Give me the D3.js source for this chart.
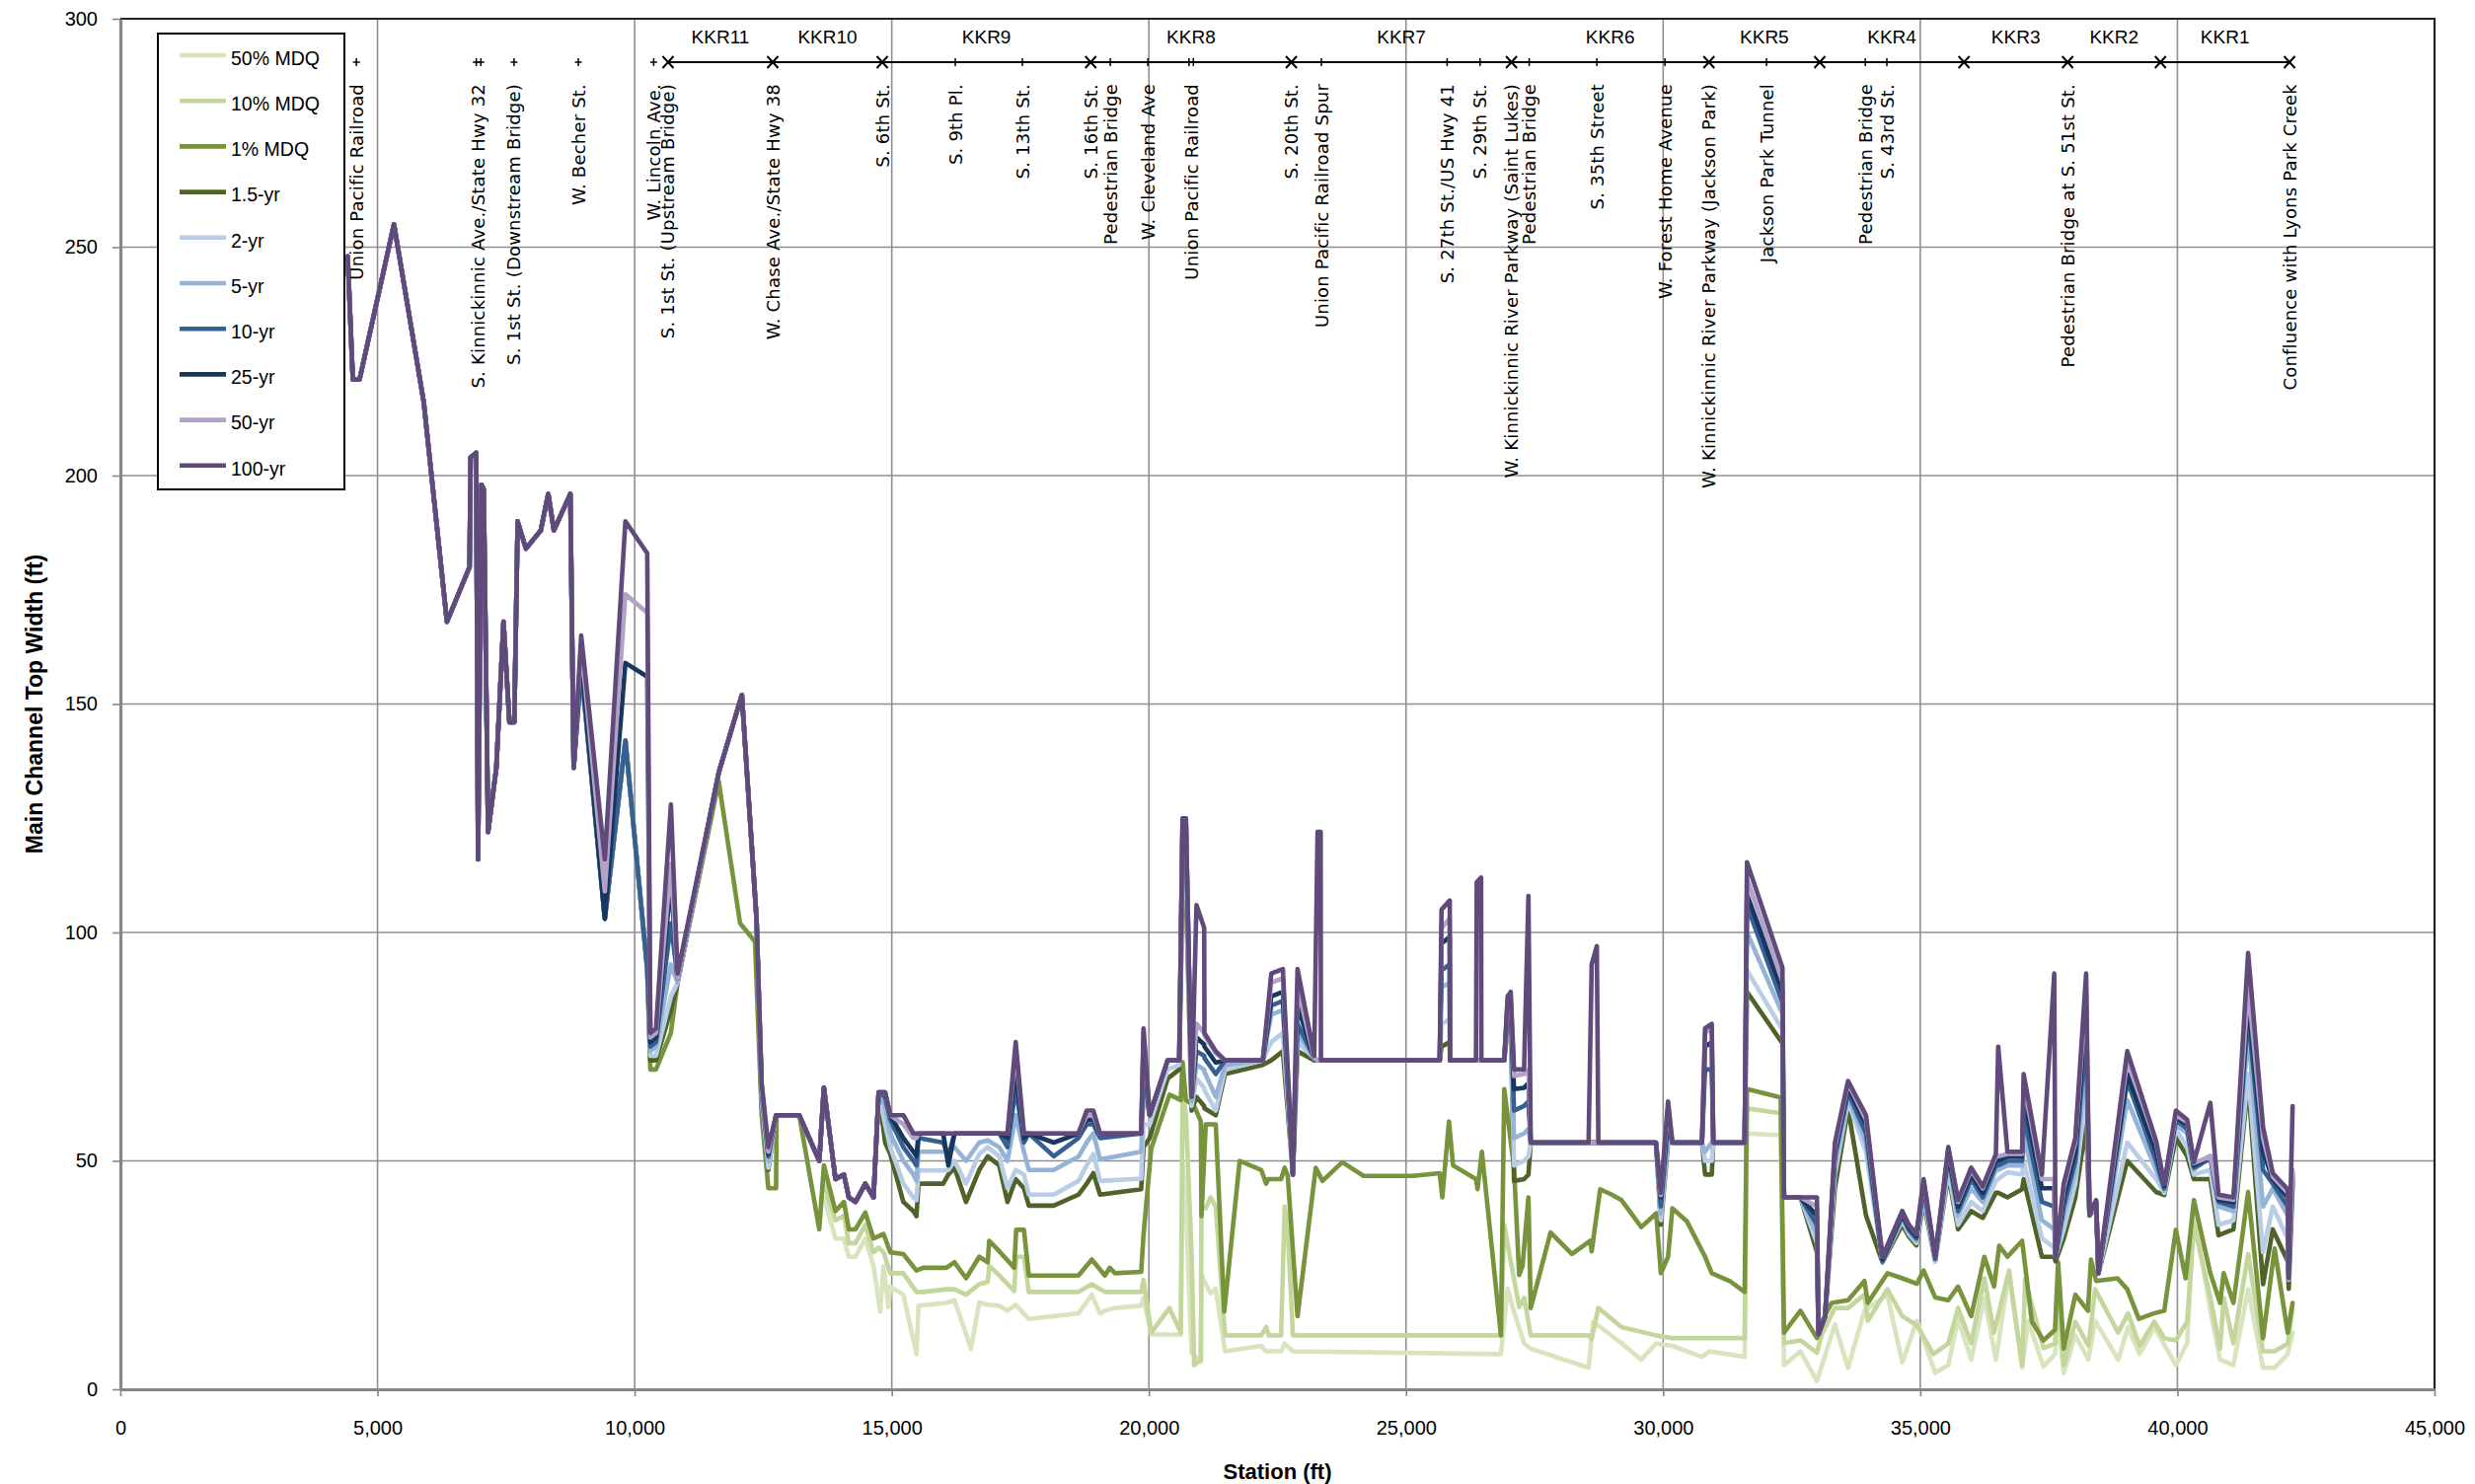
<!DOCTYPE html>
<html>
<head>
<meta charset="utf-8">
<script src="https://cdn.jsdelivr.net/npm/d3@7"></script>
<style>
  body { margin: 0; background: #fff; }
  svg { display: block; }
</style>
</head>
<body>
<div id="chart"></div>
<script>
// Stations (ft) shared by the return-period series
const stations = [
  4420, 4520, 4650, 5320, 5900, 6350, 6790, 6810, 6920, 6955,
  7020, 7065, 7150, 7310, 7450, 7565, 7660, 7725, 7885, 8175,
  8320, 8430, 8750, 8815, 8960, 9420, 9820, 10245, 10305, 10415,
  10705, 10835, 11635, 12085, 12370, 12470, 12600, 12750, 13200, 13590,
  13680, 13905, 14070, 14165, 14295, 14485, 14645, 14745, 14870, 14970,
  15225, 15420, 15480, 15520, 16000, 16100, 16220, 16445, 16700, 16865,
  17090, 17250, 17410, 17570, 17665, 18150, 18630, 18790, 18920, 19050,
  19850, 19895, 20015, 20365, 20590, 20655, 20720, 20830, 20925, 21075,
  21080, 21300, 21480, 22215, 22380, 22605, 22800, 22890, 23215, 23280,
  23340, 23345, 25655, 25690, 25850, 25855, 26360, 26375, 26460, 26465,
  26910, 26975, 27035, 27100, 27295, 27380, 27425, 28550, 28610, 28710,
  28740, 29860, 29955, 30095, 30180, 30755, 30815, 30945, 30975, 31585,
  31630, 32320, 32350, 32670, 32990, 33020, 33150, 33340, 33595, 33945,
  34265, 34650, 34775, 34925, 35065, 35290, 35545, 35735, 35990, 36215,
  36470, 36515, 36695, 36980, 37010, 37365, 37605, 37630, 37790, 38015,
  38225, 38290, 38420, 38465, 39025, 39585, 39745, 39970, 40190, 40320,
  40640, 40800, 41090, 41375, 41665, 41855, 42145, 42165, 42240
];

const w100yr = [
  248, 221, 221, 255, 216, 168, 180, 204, 205, 116,
  198, 197, 122, 136, 168, 146, 146, 190, 184, 188,
  196, 188, 196, 136, 165, 116, 190, 183, 78, 79,
  128, 91, 135, 152, 103, 67, 53, 60, 60, 50,
  66, 46, 47, 42, 41, 45, 42, 65, 65, 60,
  60, 56, 56, 56, 56, 56, 56, 56, 56, 56,
  56, 56, 76, 56, 56, 56, 56, 61, 61, 56,
  56, 79, 60, 72, 72, 125, 125, 64, 106, 101,
  78, 74, 72, 72, 91, 92, 47, 92, 73, 122,
  122, 72, 72, 105, 107, 72, 72, 111, 112, 72,
  72, 86, 87, 70, 70, 108, 54, 54, 93, 97,
  54, 54, 43, 63, 54, 54, 79, 80, 54, 54,
  115.4, 92.3, 42, 42, 42, 12, 16, 54, 67.5, 60,
  29, 39, 36, 34, 46, 29, 53, 41.4, 48.5, 44.4,
  51.5, 75, 52, 52, 69, 47, 91, 29, 45, 55,
  91, 38.5, 41.4, 25.4, 74, 54.4, 45, 61, 59, 49.7,
  62.7, 42.6, 42, 95.5, 57.4, 47.3, 43.8, 24.3, 62
];

const w50yr = [
  248, 221, 221, 255, 216, 168, 180, 204, 205, 116,
  198, 197, 122, 136, 168, 146, 146, 190, 184, 188,
  196, 188, 196, 136, 163, 109, 174, 170, 77, 78,
  115, 90, 135, 152, 103, 66, 52, 60, 60, 50,
  66, 46, 47, 42, 41, 45, 42, 65, 65, 60,
  58, 55, 55, 56, 56, 56, 56, 56, 56, 56,
  56, 56, 74, 56, 56, 56, 56, 60, 60, 56,
  56, 78, 60, 72, 72, 125, 125, 64, 80, 78,
  77.5, 73.5, 72, 72, 89, 90, 47, 88, 72.5, 72,
  72, 72, 72, 101, 103, 72, 72, 72, 72, 72,
  72, 85, 86, 68.6, 69, 70, 54, 54, 54, 54,
  54, 54, 42.5, 62, 54, 54, 78, 79, 54, 54,
  111.8, 89.3, 42, 42, 40, 12, 16, 53, 67, 59,
  29, 39, 36, 34, 45.5, 29, 53, 41, 48, 44,
  51, 51, 51.5, 51.5, 67, 46, 46, 29, 44, 54,
  88, 38.5, 41, 25.4, 72, 54, 45, 60, 58.5, 49.5,
  51, 42, 41.5, 88, 55, 46.5, 43, 25, 48
];

const w25yr = [
  248, 221, 221, 255, 216, 168, 180, 204, 205, 116,
  198, 197, 122, 136, 168, 146, 146, 190, 184, 188,
  196, 188, 196, 136, 160, 103, 159, 156, 76, 77,
  111, 90, 135, 152, 103, 66, 51.5, 60, 60, 50,
  66, 46, 47, 42, 41, 45, 42, 65, 65, 60,
  55, 52, 51, 56, 56, 49, 56, 56, 56, 56,
  56, 55, 70, 55, 56, 54, 56, 59, 59, 56,
  56, 76, 60, 72, 72, 124, 124, 64, 77, 75.5,
  75, 71.5, 72, 72, 86, 87, 47, 84, 72.5, 72,
  72, 72, 72, 97.6, 99, 72, 72, 72, 72, 72,
  72, 84, 85, 65.7, 66, 67, 54, 54, 54, 54,
  54, 54, 42, 60, 54, 54, 75, 76, 54, 54,
  108.3, 87, 42, 42, 38, 12, 16, 52, 66, 58,
  28.5, 38.5, 35.5, 33.5, 45, 29, 52, 40, 47, 43,
  50, 50, 51, 51, 64, 44, 44, 29, 42, 52,
  84, 38.5, 41, 25.4, 69, 52, 44.5, 59.5, 58, 49,
  51, 41.5, 41, 85, 52, 46, 42, 25, 47
];

const w10yr = [
  248, 221, 221, 255, 216, 168, 180, 204, 205, 116,
  198, 197, 122, 136, 168, 146, 146, 190, 184, 188,
  196, 188, 196, 136, 158, 103, 142, 92, 75, 76,
  102, 90, 135, 152, 103, 65, 51, 60, 60, 50,
  66, 46, 47, 42, 41, 45, 42, 65, 64, 59,
  53, 50, 49, 55, 54, 51, 56, 56, 56, 56,
  56, 53, 66, 54, 56, 51, 55, 58, 58, 55,
  56, 70, 60, 72, 72, 124, 124, 64, 74, 73,
  72.5, 69, 72, 72, 84, 85, 47, 80, 72.5, 72,
  72, 72, 72, 91.7, 93, 72, 72, 72, 72, 72,
  72, 83, 84, 61, 62, 63, 54, 54, 54, 54,
  54, 54, 40, 58, 54, 54, 70, 70, 54, 54,
  105.9, 84.6, 42, 42, 36, 12, 16, 51, 65, 56,
  28, 38, 35, 33, 44, 28.5, 51, 39, 46, 42,
  49, 49, 50, 50, 60, 41, 40, 29, 40, 50,
  78, 38.5, 41, 25.4, 67.5, 50, 44, 59, 57, 48.5,
  50.5, 41, 40, 82, 48, 45, 40, 25, 46
];

const w5yr = [
  248, 221, 221, 255, 216, 168, 180, 204, 205, 116,
  198, 197, 122, 136, 168, 146, 146, 190, 184, 188,
  196, 188, 196, 136, 158, 103, 142, 92, 74, 75,
  93, 89, 135, 152, 103, 64, 50, 60, 60, 50,
  66, 46, 47, 42, 41, 45, 42, 65, 62, 56,
  50, 47, 45.6, 52, 52, 52, 53, 50, 54, 54.5,
  53, 50, 60, 52, 48, 48, 50.9, 54, 56, 50.3,
  52, 65, 60, 72, 72, 120, 120, 63, 71, 70,
  69.5, 64, 71, 72, 82, 83, 47, 78, 72.5, 72,
  72, 72, 72, 88, 89, 72, 72, 72, 72, 72,
  72, 82, 83, 55, 56, 57, 54, 54, 54, 54,
  54, 54, 38.5, 56, 54, 54, 52, 54, 54, 54,
  100, 82.2, 42, 42, 34, 12, 16, 49, 64, 54,
  28, 37.5, 34.5, 32.5, 43, 28.5, 50, 38, 44, 41,
  48, 48, 49, 49, 56, 37, 35, 29, 38, 48,
  72, 38.5, 40, 25.4, 63.3, 48, 43.5, 58, 56, 48,
  50.9, 40, 39, 78, 40, 44, 38, 25, 45
];

const w2yr = [
  248, 221, 221, 255, 216, 168, 180, 204, 205, 116,
  198, 197, 122, 136, 168, 146, 146, 190, 184, 188,
  196, 188, 196, 136, 158, 103, 142, 92, 73, 73,
  86, 89, 135, 152, 103, 63, 48.5, 60, 60, 50,
  66, 46, 47, 42, 41, 45, 42, 65, 58, 53,
  45, 42, 41.4, 47.9, 47.9, 48, 50, 45, 51.5, 53,
  51, 44, 48, 47, 42.6, 42.6, 45.6, 49, 51.5, 45.6,
  46.1, 58, 58, 70, 71, 115, 115, 62, 68, 66,
  65.5, 61, 70, 72, 76, 78, 47, 76, 72.5, 72,
  72, 72, 72, 80, 81, 72, 72, 72, 72, 72,
  72, 80, 81, 49, 50, 51, 54, 54, 54, 54,
  54, 54, 37, 55, 54, 54, 50, 50, 54, 54,
  91.7, 78.7, 42, 42, 32, 12, 16, 47, 63, 52,
  28, 37, 34, 32, 42, 28, 48, 36, 41, 39,
  45.6, 46, 47.5, 47, 50, 33, 31, 29, 35, 45,
  65, 38.5, 40, 25.4, 54, 46, 43, 57, 53, 47,
  48, 36, 37, 69, 30, 40, 33, 24, 44
];

const w15yr = [
  248, 221, 221, 255, 216, 168, 180, 204, 205, 116,
  198, 197, 122, 136, 168, 146, 146, 190, 184, 188,
  196, 188, 196, 136, 158, 103, 142, 92, 72, 72,
  83, 89, 135, 152, 103, 62, 48, 60, 60, 50,
  66, 46, 47, 42, 41, 45, 42, 65, 54, 51.5,
  41, 39, 37.9, 45, 45, 47, 48.5, 41, 48, 51,
  49, 41, 46, 44, 40.2, 40.2, 42.6, 45, 47.3, 42.6,
  43.8, 53, 55, 68, 70, 110, 110, 61, 64, 62,
  61.5, 60, 69, 71, 72, 74, 47, 74, 72, 72,
  72, 72, 72, 75, 76, 72, 72, 72, 72, 72,
  72, 79, 80, 45.6, 46, 47, 54, 54, 54, 54,
  54, 54, 36, 54, 54, 54, 47, 47, 54, 54,
  87, 75.7, 42, 42, 30, 12, 16, 44, 61.5, 38,
  27.8, 36, 33.5, 31.5, 41, 28, 47, 35, 39, 37.5,
  43, 43, 42, 43.8, 46, 29, 29, 28, 33, 42,
  58, 38, 40, 25.4, 50, 43.2, 42.5, 55, 51, 46,
  46, 33.7, 35, 67, 23, 35, 28, 22, 45
];

// Low-flow series: [station, top width]
const mdq1 = [
  [4420, 248], [4520, 221], [4650, 221], [5320, 255], [5900, 216], [6350, 168], [6790, 180],
  [6810, 204], [6920, 205], [6955, 116], [7020, 198], [7065, 197], [7150, 122], [7310, 136],
  [7450, 168], [7565, 146], [7660, 146], [7725, 190], [7885, 184], [8175, 188], [8320, 196],
  [8430, 188], [8750, 196], [8815, 136], [8960, 158], [9420, 103], [9820, 142], [10245, 92],
  [10305, 70], [10415, 70], [10705, 78], [10835, 89], [11635, 133], [12050, 102], [12340, 98],
  [12470, 60], [12600, 44], [12750, 44], [12760, 60], [13200, 60], [13590, 35], [13680, 49],
  [13905, 39], [14070, 41], [14165, 35], [14295, 35], [14485, 38.7], [14645, 33], [14840, 34],
  [14970, 30], [15225, 29.6], [15480, 26], [15610, 26.6], [16060, 26.6], [16220, 27.8],
  [16445, 24.3], [16700, 29], [16865, 27.8], [16895, 32.5], [17090, 30.2], [17380, 26.6],
  [17420, 34.9], [17570, 34.9], [17665, 24.9], [18630, 24.9], [18890, 28.4], [19145, 24.9],
  [19240, 26.6], [19340, 25.4], [19850, 25.7], [19895, 33.7], [20045, 52.7], [20400, 64.5],
  [20620, 63.3], [20655, 71.6], [20720, 63.3], [20880, 62], [21010, 58.6], [21022, 37.9],
  [21105, 58], [21300, 58], [21465, 17], [21765, 50], [22185, 48], [22280, 45], [22320, 46],
  [22570, 46], [22640, 48.5], [22700, 46.7], [22890, 16], [23245, 48.5], [23375, 45.6],
  [23760, 49.7], [24175, 46.7], [25140, 46.7], [25655, 47.3], [25705, 42], [25835, 58.6],
  [25915, 49], [26360, 46], [26390, 43.8], [26475, 52], [26845, 11.8], [26910, 65.7],
  [27100, 48.5], [27200, 25], [27265, 27], [27380, 42], [27425, 17.8], [27810, 34.3],
  [28225, 29.6], [28580, 32.5], [28610, 30.2], [28775, 43.8], [29000, 42.6], [29190, 41.4],
  [29575, 35.5], [29865, 38.5], [29955, 25.4], [30095, 29], [30180, 39.6], [30465, 36.7],
  [30815, 29], [30945, 25.4], [31295, 23.7], [31585, 21.3], [31630, 65.7], [32285, 63.9],
  [32350, 12.4], [32670, 17.2], [32990, 11.2], [33085, 14.8], [33275, 18.9], [33595, 19.5],
  [33915, 23.7], [33980, 18.9], [34360, 25.4], [34650, 24.3], [34935, 23.1], [35065, 26],
  [35290, 20.1], [35545, 19.5], [35735, 22.5], [35990, 16], [36245, 29], [36435, 22.5],
  [36535, 31.4], [36695, 29], [36980, 32.5], [37170, 14.8], [37395, 10.7], [37620, 13],
  [37680, 27.8], [37790, 8.9], [38015, 20.7], [38260, 17.2], [38320, 28.4], [38420, 23.7],
  [38835, 24.3], [39025, 21.9], [39250, 15.4], [39540, 16.6], [39745, 17.2], [39970, 34.9],
  [40160, 24.3], [40320, 41.4], [40640, 25.4], [40830, 18.9], [40900, 25.4], [41090, 18.9],
  [41375, 43.2], [41665, 11.2], [41890, 30.8], [42145, 12.4], [42240, 18.9]
];

const mdq10 = [
  [13680, 45], [13905, 37], [14070, 38], [14165, 32], [14295, 32], [14485, 36], [14645, 30],
  [14745, 31], [14840, 30], [14970, 25.4], [15225, 25.4], [15480, 21.3], [15610, 21.3],
  [16060, 21.9], [16220, 21.9], [16445, 20.7], [16700, 23], [16865, 23.5], [16895, 27],
  [17090, 24.9], [17380, 21.5], [17420, 29], [17570, 29], [17665, 21.3], [18630, 21.3],
  [18890, 23], [19145, 21.3], [19850, 21.3], [19895, 24], [20045, 12.4], [20400, 17.8],
  [20620, 12.4], [20655, 65.7], [20720, 60], [20830, 30], [20880, 5.3], [21010, 6.5],
  [21022, 40], [21105, 39.6], [21200, 42], [21300, 40], [21480, 11.8], [22185, 11.8],
  [22280, 13.6], [22330, 11.8], [22570, 11.8], [22640, 40], [22700, 35], [22800, 11.8],
  [26845, 11.8], [26910, 36], [27035, 28], [27200, 18], [27300, 20], [27425, 11.8],
  [28550, 11.8], [28610, 11], [28740, 17.8], [29190, 13.6], [29860, 11.8], [30180, 11.2],
  [31585, 11.2], [31630, 61.5], [32285, 60.4], [32350, 10.1], [32670, 10.7], [32990, 8],
  [33085, 12], [33340, 17.8], [33595, 17.8], [33915, 20.7], [33980, 15], [34360, 21.9],
  [34650, 16], [34935, 14], [35255, 7.7], [35545, 10], [35735, 17.8], [35990, 10.1],
  [36245, 24.3], [36435, 12.4], [36725, 26], [36980, 5.3], [37040, 24], [37395, 9],
  [37620, 10], [37680, 22], [37790, 5.3], [38015, 14.8], [38270, 9.5], [38400, 21.9],
  [38848, 12.4], [39040, 16.6], [39264, 9.5], [39552, 14.8], [39744, 11.2], [39968, 10.7],
  [40190, 14.8], [40320, 36.1], [40640, 20.1], [40830, 8.9], [40900, 20], [41088, 10.1],
  [41376, 29.6], [41664, 8.3], [41890, 8.3], [42145, 10], [42240, 17.8]
];

const mdq50 = [
  [13680, 42], [13905, 33], [14070, 33], [14165, 29], [14295, 29], [14485, 33], [14645, 27],
  [14775, 17], [14840, 27], [14935, 18], [14970, 22.5], [15225, 20.7], [15480, 7.7],
  [15520, 18.3], [16060, 18.9], [16220, 19.5], [16540, 8.9], [16700, 19], [16865, 18.5],
  [17090, 18.3], [17250, 17.2], [17410, 18.5], [17665, 15.4], [18630, 16.6], [18890, 20.7],
  [19050, 16.6], [19145, 17.2], [19340, 17.8], [19850, 18.3], [19895, 20], [20045, 12],
  [20620, 12], [20655, 50], [20720, 40], [20830, 8], [21010, 6], [21022, 25], [21105, 23],
  [21200, 21], [21300, 22], [21480, 8.3], [22185, 9.5], [22280, 8.3], [22570, 8.3],
  [22640, 10], [22800, 8.3], [26845, 7.7], [26975, 22], [27100, 17], [27300, 10],
  [27425, 8.9], [28550, 4.7], [28640, 14.8], [29190, 10.1], [29575, 6.5], [29860, 10],
  [30180, 9.5], [30755, 7.1], [30900, 8.3], [31585, 7.1], [31630, 56], [32285, 55.6],
  [32350, 5.3], [32670, 8.3], [32990, 1.8], [33340, 14.2], [33595, 4.7], [33915, 17.2],
  [34360, 20.7], [34650, 5.9], [34935, 15], [35290, 3.6], [35545, 5.3], [35735, 15.4],
  [35990, 6.5], [36245, 20], [36470, 6.5], [36725, 25.4], [36980, 4.7], [37100, 15],
  [37395, 5], [37620, 7.7], [37680, 15], [37790, 3.6], [38015, 11.8], [38270, 6.5],
  [38400, 15], [38848, 6.5], [39040, 13.6], [39264, 7.7], [39552, 13.6], [39968, 5.3],
  [40190, 10.1], [40320, 39], [40640, 17.2], [40830, 6.5], [41088, 5.3], [41376, 21.9],
  [41664, 4.7], [41890, 4.7], [42145, 7.7], [42240, 12.4]
];

const seriesNames = ['50% MDQ', '10% MDQ', '1% MDQ', '1.5-yr', '2-yr', '5-yr', '10-yr', '25-yr', '50-yr', '100-yr'];
const seriesColors = ['#d7e4bd', '#c3d69b', '#77933c', '#4f6228', '#b9cde5', '#95b3d7', '#376092', '#17375e', '#b3a2c7', '#604a7b'];

// Crossing annotations along the top
const siteNames = [
  'Union Pacific Railroad', 'S. Kinnickinnic Ave./State Hwy 32', 'S. 1st St. (Downstream Bridge)',
  'W. Becher St.', 'W. Lincoln Ave.', 'S. 1st St. (Upstream Bridge)', 'W. Chase Ave./State Hwy 38',
  'S. 6th St.', 'S. 9th Pl.', 'S. 13th St.', 'S. 16th St.', 'Pedestrian Bridge', 'W. Cleveland Ave',
  'Union Pacific Railroad', 'S. 20th St.', 'Union Pacific Railroad Spur', 'S. 27th St./US Hwy 41',
  'S. 29th St.', 'W. Kinnickinnic River Parkway (Saint Lukes)', 'Pedestrian Bridge', 'S. 35th Street',
  'W. Forest Home Avenue', 'W. Kinnickinnic River Parkway (Jackson Park)', 'Jackson Park Tunnel',
  'Pedestrian Bridge', 'S. 43rd St.', 'Pedestrian Bridge at S. 51st St.', 'Confluence with Lyons Park Creek'
];
const siteStations = [
  4590, 6965, 7655, 8905, 10370, 10650, 12685, 14815, 16235, 17540, 18868, 19250, 19980,
  20822, 22770, 23355, 25800, 26440, 27050, 27395, 28710, 30035, 30890, 32010, 33930, 34350,
  37865, 42180
];
const plusMarks = [4590, 6920, 7010, 7655, 8905, 10370, 16235, 17540, 19250, 19980, 20780, 20865,
  23355, 25800, 26440, 27395, 28710, 30035, 32010, 33930, 34350];
const reachBounds = [10650, 12685, 14815, 18868, 22770, 27050, 30890, 33045, 35850, 37865, 39670, 42180];
const reachNames = ['KKR11', 'KKR10', 'KKR9', 'KKR8', 'KKR7', 'KKR6', 'KKR5', 'KKR4', 'KKR3', 'KKR2', 'KKR1'];

const xTicks = [0, 5000, 10000, 15000, 20000, 25000, 30000, 35000, 40000, 45000];
const yTicks = [0, 50, 100, 150, 200, 250, 300];

// ---------------------------------------------------------------
const W = 2508, H = 1504;
const plot = { left: 122, right: 2467, top: 19, bottom: 1408 };

const x = d3.scaleLinear().domain([0, 45000]).range([plot.left, plot.right]);
const y = d3.scaleLinear().domain([0, 300]).range([plot.bottom, plot.top]);

const svg = d3.select('#chart').append('svg')
  .attr('width', W)
  .attr('height', H);

svg.append('rect').attr('width', W).attr('height', H).attr('fill', '#fff');

// Gridlines
const grid = svg.append('g');
grid.selectAll('.hgrid')
  .data(yTicks.filter(d => d > 0 && d < 300))
  .enter().append('line')
  .attr('x1', plot.left).attr('x2', plot.right)
  .attr('y1', d => y(d)).attr('y2', d => y(d))
  .attr('stroke', '#8f8f8f').attr('stroke-width', 1.6);
grid.selectAll('.vgrid')
  .data(xTicks.filter(d => d > 0 && d < 45000))
  .enter().append('line')
  .attr('x1', d => x(d)).attr('x2', d => x(d))
  .attr('y1', plot.top).attr('y2', plot.bottom)
  .attr('stroke', '#8f8f8f').attr('stroke-width', 1.6);

// Plot border (top / right)
svg.append('path')
  .attr('d', `M${plot.left},${plot.top}H${plot.right}V${plot.bottom}`)
  .attr('fill', 'none').attr('stroke', '#222').attr('stroke-width', 2.2);

// Axes
const xAxis = svg.append('g')
  .attr('transform', `translate(0,${plot.bottom})`)
  .call(d3.axisBottom(x).tickValues(xTicks).tickSizeInner(7).tickSizeOuter(0)
    .tickPadding(25).tickFormat(d3.format(',')));
const yAxis = svg.append('g')
  .attr('transform', `translate(${plot.left},0)`)
  .call(d3.axisLeft(y).tickValues(yTicks).tickSizeInner(8).tickSizeOuter(0).tickPadding(15));

[xAxis, yAxis].forEach(a => {
  a.select('.domain').attr('stroke', '#868686').attr('stroke-width', 3.2);
  a.selectAll('.tick line').attr('stroke', '#868686').attr('stroke-width', 1.6);
  a.selectAll('.tick text')
    .style('font-family', "'Liberation Sans', Arial, sans-serif")
    .style('font-size', '20px')
    .attr('fill', '#000');
});

// Axis titles
svg.append('text')
  .attr('x', (plot.left + plot.right) / 2)
  .attr('y', 1491)
  .attr('dy', '0.35em')
  .attr('text-anchor', 'middle')
  .style('font-family', "'Liberation Sans', Arial, sans-serif")
  .style('font-size', '22px')
  .style('font-weight', 'bold')
  .text('Station (ft)');

svg.append('text')
  .attr('transform', `translate(35,${(plot.top + plot.bottom) / 2}) rotate(-90)`)
  .attr('dy', '0.35em')
  .attr('text-anchor', 'middle')
  .style('font-family', "'Liberation Sans', Arial, sans-serif")
  .style('font-size', '23px')
  .style('font-weight', 'bold')
  .text('Main Channel Top Width (ft)');

// Data
const yrArrays = [w15yr, w2yr, w5yr, w10yr, w25yr, w50yr, w100yr];
const allPoints = [mdq50, mdq10, mdq1].concat(
  yrArrays.map(arr => stations.map((s, i) => [s, arr[i]]))
);

const line = d3.line()
  .defined(d => d[1] != null)
  .x(d => x(d[0]))
  .y(d => y(d[1]));

const lines = svg.append('g');
allPoints.forEach((pts, i) => {
  lines.append('path')
    .datum(pts)
    .attr('fill', 'none')
    .attr('stroke', seriesColors[i])
    .attr('stroke-width', 4.6)
    .attr('stroke-linejoin', 'round')
    .attr('stroke-linecap', 'round')
    .attr('d', line);
});

// Crossing annotations
const ann = svg.append('g');
const annY = 63;

ann.append('line')
  .attr('x1', x(reachBounds[0])).attr('x2', x(reachBounds[reachBounds.length - 1]))
  .attr('y1', annY).attr('y2', annY)
  .attr('stroke', '#000').attr('stroke-width', 2);

ann.selectAll('.plus')
  .data(plusMarks)
  .enter().append('path')
  .attr('d', d => `M${x(d)},${annY - 4}V${annY + 4}M${x(d) - 3.5},${annY}H${x(d) + 3.5}`)
  .attr('stroke', '#000').attr('stroke-width', 1.5).attr('fill', 'none');

ann.selectAll('.cross')
  .data(reachBounds)
  .enter().append('path')
  .attr('d', d => `M${x(d) - 5.5},${annY - 6}L${x(d) + 5.5},${annY + 6}M${x(d) - 5.5},${annY + 6}L${x(d) + 5.5},${annY - 6}`)
  .attr('stroke', '#000').attr('stroke-width', 2).attr('fill', 'none');

ann.selectAll('.reach')
  .data(reachNames)
  .enter().append('text')
  .attr('x', (d, i) => x((reachBounds[i] + reachBounds[i + 1]) / 2))
  .attr('y', 37)
  .attr('dy', '0.35em')
  .attr('text-anchor', 'middle')
  .style('font-family', "'Liberation Sans', Arial, sans-serif")
  .style('font-size', '19px')
  .text(d => d);

ann.selectAll('.site')
  .data(siteNames)
  .enter().append('text')
  .attr('transform', (d, i) => `translate(${x(siteStations[i])},85) rotate(-90)`)
  .attr('dy', '0.36em')
  .attr('text-anchor', 'end')
  .style('font-family', "'DejaVu Sans', Verdana, sans-serif")
  .style('font-size', '18px')
  .style('letter-spacing', '0.2px')
  .text(d => d);

// Legend
const legend = svg.append('g').attr('transform', 'translate(160,34)');
legend.append('rect')
  .attr('width', 189).attr('height', 462)
  .attr('fill', '#fff').attr('stroke', '#000').attr('stroke-width', 2);

const rows = legend.selectAll('.row')
  .data(seriesNames)
  .enter().append('g')
  .attr('transform', (d, i) => `translate(0,${22 + i * 46.2})`);

rows.append('line')
  .attr('x1', 22).attr('x2', 69)
  .attr('stroke', (d, i) => seriesColors[i])
  .attr('stroke-width', 4.6);

rows.append('text')
  .attr('x', 74)
  .attr('y', 3)
  .attr('dy', '0.35em')
  .style('font-family', "'Liberation Sans', Arial, sans-serif")
  .style('font-size', '19.5px')
  .text(d => d);
</script>
</body>
</html>
